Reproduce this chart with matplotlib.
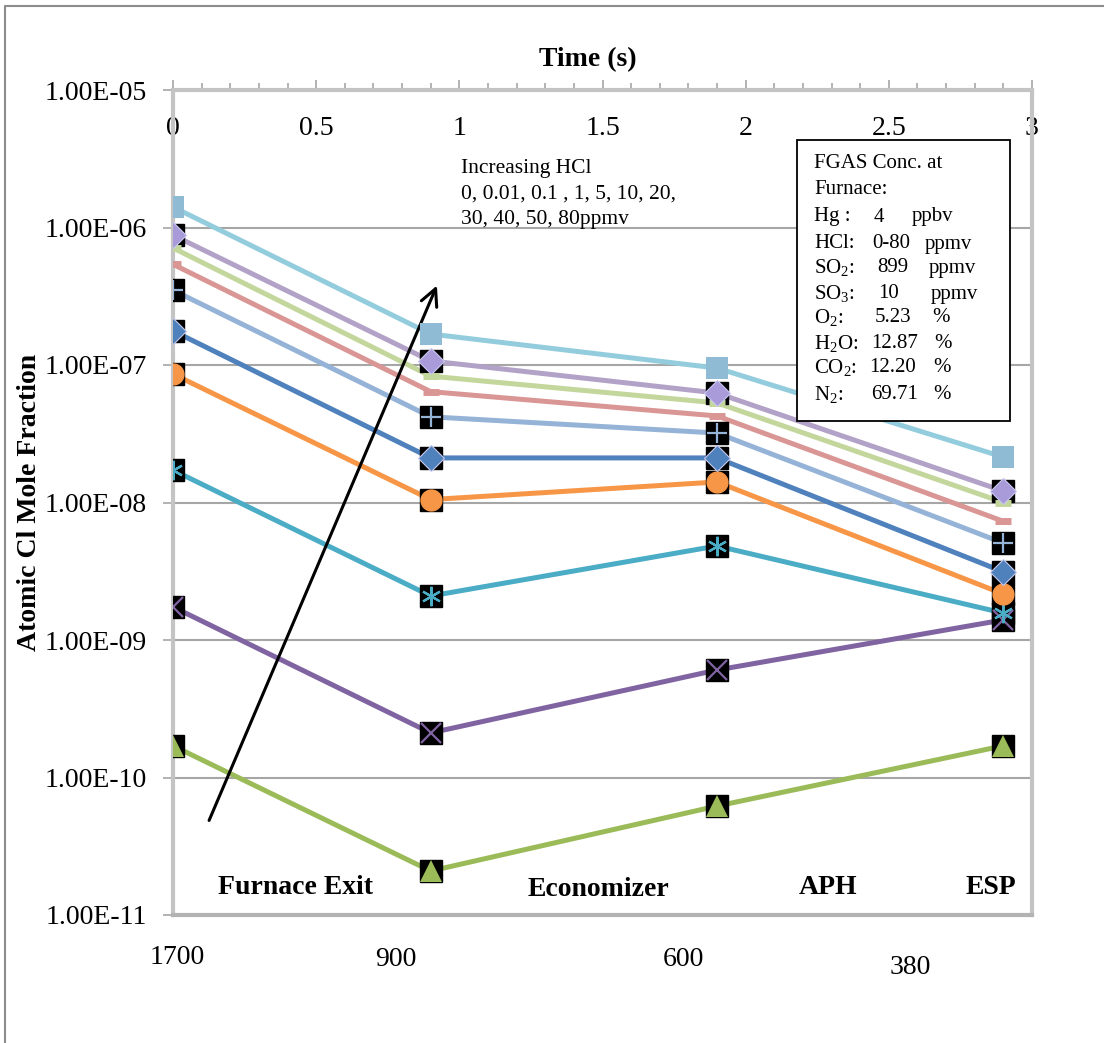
import numpy as np
import matplotlib
matplotlib.use('Agg')
import matplotlib.pyplot as plt
from matplotlib.ticker import FixedLocator, MultipleLocator, FuncFormatter
from matplotlib.patches import Rectangle
from matplotlib.lines import Line2D

plt.rcParams['font.family'] = ['Liberation Serif', 'DejaVu Serif']
plt.rcParams['mathtext.fontset'] = 'custom'
plt.rcParams['mathtext.rm'] = 'Liberation Serif'
plt.rcParams['mathtext.default'] = 'regular'

# residence time at each location (s)
time_s = [0, 0.9, 1.9, 2.9]
locations = ['Furnace Exit', 'Economizer', 'APH', 'ESP']
temps = ['1700', '900', '600', '380']

# atomic Cl mole fraction per HCl level (ppmv)
hcl_001 = [1.70e-10, 2.09e-11, 6.2e-11, 1.70e-10]
hcl_01 = [1.74e-9, 2.11e-10, 6.05e-10, 1.40e-9]
hcl_1 = [1.72e-8, 2.09e-9, 4.83e-9, 1.57e-9]
hcl_5 = [8.6e-8, 1.05e-8, 1.41e-8, 2.16e-9]
hcl_10 = [1.77e-7, 2.11e-8, 2.11e-8, 3.13e-9]
hcl_20 = [3.5e-7, 4.2e-8, 3.2e-8, 5.07e-9]
hcl_30 = [5.4e-7, 6.4e-8, 4.26e-8, 7.3e-9]
hcl_40 = [7.1e-7, 8.3e-8, 5.3e-8, 1.0e-8]
hcl_50 = [8.8e-7, 1.07e-7, 6.25e-8, 1.21e-8]
hcl_80 = [1.41e-6, 1.68e-7, 9.5e-8, 2.14e-8]

# (values, line colour, marker, marker colour, black backing box)
series = [
    (hcl_001, '#9BBB59', '^', '#9BBB59', True),
    (hcl_01, '#8064A2', 'x', '#8064A2', True),
    (hcl_1, '#4BACC6', (6, 2, 0), '#4BACC6', True),
    (hcl_5, '#F79646', 'o', '#F79646', True),
    (hcl_10, '#4F81BD', 'D', '#4F81BD', True),
    (hcl_20, '#95B3D7', '+', '#95B3D7', True),
    (hcl_30, '#D99694', '_', '#D99694', False),
    (hcl_40, '#C3D69B', '_', '#C3D69B', False),
    (hcl_50, '#B3A2C7', 'D', '#A99BD9', True),
    (hcl_80, '#93CDDD', 's', '#8FBCD4', False),
]

W, H = 1104, 1043
fig = plt.figure(figsize=(W / 100, H / 100), dpi=100)
ax = fig.add_axes([173 / W, 1 - 915 / H, (1032 - 173) / W, (915 - 90) / H])

for vals, lc, mk, mc, box in series:
    ax.plot(time_s, vals, color=lc, lw=3.6, zorder=3, solid_capstyle='butt')
for vals, lc, mk, mc, box in series:
    if box:
        ax.plot(time_s, vals, ls='none', marker='s', ms=15.5, color='black', zorder=4)
    if mk in ('x', '+') or isinstance(mk, tuple):
        ax.plot(time_s, vals, ls='none', marker=mk, ms=14, mew=1.6, color=mc, zorder=5)
    elif mk == '_':
        ax.plot(time_s, vals, ls='none', marker=mk, ms=11, mew=5, color=mc, zorder=5)
    elif mk == 'D':
        ax.plot(time_s, vals, ls='none', marker=mk, ms=13, mfc=mc, mec='#C9C9F0', mew=0.8, zorder=5)
    elif mk == 'o':
        ax.plot(time_s, vals, ls='none', marker=mk, ms=15, mfc=mc, mec=mc, zorder=5)
    else:
        ax.plot(time_s, vals, ls='none', marker=mk, ms=16, mfc=mc, mec=mc, mew=0, zorder=5)

ax.set_yscale('log')
ax.set_ylim(1e-11, 1e-5)
ax.set_xlim(0, 3)
ax.yaxis.set_major_locator(FixedLocator([10.0 ** k for k in range(-11, -4)]))
ax.yaxis.set_minor_locator(FixedLocator([]))
ax.yaxis.set_major_formatter(FuncFormatter(lambda v, p: f'{v:.2E}'))
ax.yaxis.grid(True, color='#A6A6A6', lw=1.5)
ax.set_axisbelow(True)

ax.xaxis.set_major_locator(MultipleLocator(0.5))
ax.xaxis.set_minor_locator(MultipleLocator(0.1))
ax.xaxis.set_major_formatter(FuncFormatter(lambda v, p: f'{v:g}'))
ax.tick_params(axis='x', which='both', top=True, bottom=False, labeltop=True,
               labelbottom=False, direction='out', color='#A6A6A6', width=1.2)
ax.tick_params(axis='x', which='major', length=7, pad=-44, labelsize=20)
ax.tick_params(axis='x', which='minor', length=5)
ax.tick_params(axis='y', which='major', length=7, width=1.2, color='#A6A6A6',
               labelsize=20, pad=12)

for s in ['left', 'right', 'top']:
    ax.spines[s].set_color('#C4C4C4')
    ax.spines[s].set_linewidth(3)
ax.spines['bottom'].set_color('#B3B3B3')
ax.spines['bottom'].set_linewidth(3)

# titles
fig.text(588 / W, 1 - 60 / H, 'Time (s)', ha='center', va='center',
         fontsize=20, fontweight='bold')
fig.text(30 / W, 1 - 502 / H, 'Atomic Cl Mole Fraction', ha='center', va='center',
         rotation=90, fontsize=20, fontweight='bold')

# location labels inside the plot and temperatures below it
loc_xy = [(295, 888), (598, 890), (828, 888), (991, 888)]
for name, (px, py) in zip(locations, loc_xy):
    fig.text(px / W, 1 - py / H, name, ha='center', va='center',
             fontsize=20, fontweight='bold')
temp_xy = [(177, 957), (396, 960), (683, 960), (910, 967)]
for t, (px, py) in zip(temps, temp_xy):
    fig.text(px / W, 1 - py / H, t, ha='center', va='center', fontsize=20)

# trend arrow and note
ax.annotate('', xy=(438, H - 283), xytext=(208, H - 823),
            xycoords='figure pixels', textcoords='figure pixels',
            arrowprops=dict(arrowstyle='->', lw=2.2, color='black',
                            mutation_scale=30))
fig.text(461 / W, 1 - 159 / H,
         'Increasing HCl\n0, 0.01, 0.1 , 1, 5, 10, 20,\n30, 40, 50, 80ppmv',
         ha='left', va='top', fontsize=15.5, linespacing=1.45)

# gas composition box
fig.add_artist(Rectangle((797 / W, 1 - 421 / H), 213 / W, 281 / H,
                         transform=fig.transFigure, fc='white', ec='black',
                         lw=1.3, zorder=10))
box_lines = [
    ('FGAS Conc. at', '', ''),
    ('Furnace:', '', ''),
    ('Hg :', '4', 'ppbv'),
    ('HCl:', '0-80', 'ppmv'),
    ('SO$_2$:', '899', 'ppmv'),
    ('SO$_3$:', '10', 'ppmv'),
    ('O$_2$:', '5.23', '%'),
    ('H$_2$O:', '12.87', '%'),
    ('CO$_2$:', '12.20', '%'),
    ('N$_2$:', '69.71', '%'),
]
box_y = [163, 190, 217, 244, 268, 294, 318, 343, 368, 395]
unit_x = [0, 0, 912, 925, 929, 931, 932, 934, 933, 933]
val_x = [0, 0, 874, 872, 877, 878, 875, 871, 869, 871]
for (lab, val, unit), by, vx, ux in zip(box_lines, box_y, val_x, unit_x):
    fig.text(814 / W, 1 - by / H, lab, ha='left', va='center', fontsize=15, zorder=11)
    if val:
        fig.text(vx / W, 1 - by / H, val, ha='left', va='center', fontsize=15, zorder=11)
        fig.text(ux / W, 1 - by / H, unit, ha='left', va='center', fontsize=15, zorder=11)

# outer chart frame
fig.add_artist(Line2D([5 / W, 5 / W, 1], [0, 1 - 6 / H, 1 - 6 / H],
                      transform=fig.transFigure, color='#8C8C8C', lw=1.5))

fig.savefig('out.png', dpi=100)
